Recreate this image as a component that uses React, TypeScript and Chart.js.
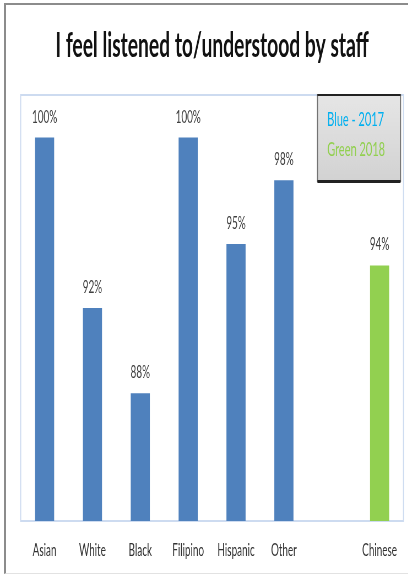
import React, { useEffect, useRef } from "react";
import { Chart, registerables } from "chart.js";

Chart.register(...registerables);

const TITLE = "I feel listened to/understood by staff";
const categories = ["Asian", "White", "Black", "Filipino", "Hispanic", "Other", "", "Chinese"];
const values2017 = [100, 92, 88, 100, 95, 98, null, null];
const values2018 = [null, null, null, null, null, null, null, 94];
const legendLines = ["Blue - 2017", "Green 2018"];
const legendColors = ["#00b0f0", "#92d050"];
const Y_MIN = 82;
const Y_MAX = 102;

const SQUISH = 0.55;
const W = 408;
const H = 574;
const CW = W / SQUISH;

const overlayPlugin = {
  id: "overlay",
  beforeDatasetsDraw(chart: any) {
    const { ctx, chartArea: a } = chart;
    ctx.save();
    ctx.strokeStyle = "#cddbf0";
    ctx.lineWidth = 2;
    ctx.strokeRect(a.left, a.top, a.right - a.left, a.bottom - a.top);
    ctx.restore();
  },
  afterDatasetsDraw(chart: any) {
    const ctx = chart.ctx;
    ctx.save();
    ctx.font = "18px Lato";
    ctx.fillStyle = "#404040";
    ctx.textAlign = "center";
    ctx.textBaseline = "alphabetic";
    chart.data.datasets.forEach((ds: any, i: number) => {
      const meta = chart.getDatasetMeta(i);
      meta.data.forEach((el: any, j: number) => {
        const v = ds.data[j];
        if (v == null) return;
        ctx.fillText(v + "%", el.x, el.y - 15);
      });
    });
    // text box legend
    const x0 = 317 / SQUISH;
    const x1 = 400 / SQUISH;
    const y0 = 95;
    const y1 = 181;
    const g = ctx.createLinearGradient(0, y0, 0, y1);
    g.addColorStop(0, "#e6e6e6");
    g.addColorStop(1, "#d2d2d2");
    ctx.fillStyle = g;
    ctx.fillRect(x0, y0, x1 - x0, y1 - y0);
    ctx.strokeStyle = "#707070";
    ctx.lineWidth = 2;
    ctx.strokeRect(x0, y0, x1 - x0, y1 - y0);
    ctx.fillStyle = "#222";
    ctx.fillRect(x0, y0 - 1, x1 - x0, 2);
    ctx.fillRect(x0, y1 - 1, x1 - x0, 3);
    ctx.font = "20px Lato";
    ctx.textAlign = "left";
    ctx.fillStyle = legendColors[0];
    ctx.fillText(legendLines[0], 594, 126);
    ctx.fillStyle = legendColors[1];
    ctx.fillText(legendLines[1], 594, 155.5);
    ctx.restore();
  },
};

export default function App() {
  const ref = useRef<HTMLCanvasElement>(null);

  useEffect(() => {
    if (!ref.current) return;
    const chart = new Chart(ref.current, {
      type: "bar",
      data: {
        labels: categories,
        datasets: [
          {
            label: "2017",
            data: values2017,
            backgroundColor: "#4f81bd",
            grouped: false,
            barPercentage: 0.4,
            categoryPercentage: 1.0,
          } as any,
          {
            label: "2018",
            data: values2018,
            backgroundColor: "#92d050",
            grouped: false,
            barPercentage: 0.4,
            categoryPercentage: 1.0,
          } as any,
        ],
      },
      options: {
        responsive: true,
        maintainAspectRatio: false,
        animation: false,
        layout: { padding: { left: 37.5, right: CW - 732.7, top: 0, bottom: -4.6 } },
        plugins: {
          legend: { display: false },
          tooltip: { enabled: false },
          title: {
            display: true,
            text: TITLE,
            color: "#111",
            font: { family: "Lato", size: 35, weight: "bold", lineHeight: 1.2 },
            padding: { top: 25, bottom: 28 },
          },
        },
        scales: {
          x: {
            grid: { display: false, drawTicks: false },
            border: { display: false },
            ticks: {
              color: "#333",
              font: { family: "Lato", size: 18 },
              padding: 18,
              autoSkip: false,
              maxRotation: 0,
            },
          },
          y: {
            display: false,
            min: Y_MIN,
            max: Y_MAX,
          },
        },
      },
      plugins: [overlayPlugin],
    });
    return () => chart.destroy();
  }, []);

  return (
    <div style={{ position: "absolute", left: 0, top: 0, width: W, height: H, overflow: "hidden", background: "#fff" }}>
      <div
        style={{
          position: "absolute",
          left: 4,
          top: 3,
          width: W - 4,
          height: H - 3,
          borderLeft: "2px solid #8c8c8c",
          borderTop: "2px solid #8c8c8c",
          borderBottom: "1px solid #e2e2e2",
          boxSizing: "border-box",
        }}
      />
      <div
        style={{
          position: "absolute",
          left: 0,
          top: 0,
          width: CW,
          height: H,
          transform: `scaleX(${SQUISH})`,
          transformOrigin: "0 0",
        }}
      >
        <canvas ref={ref} />
      </div>
    </div>
  );
}
